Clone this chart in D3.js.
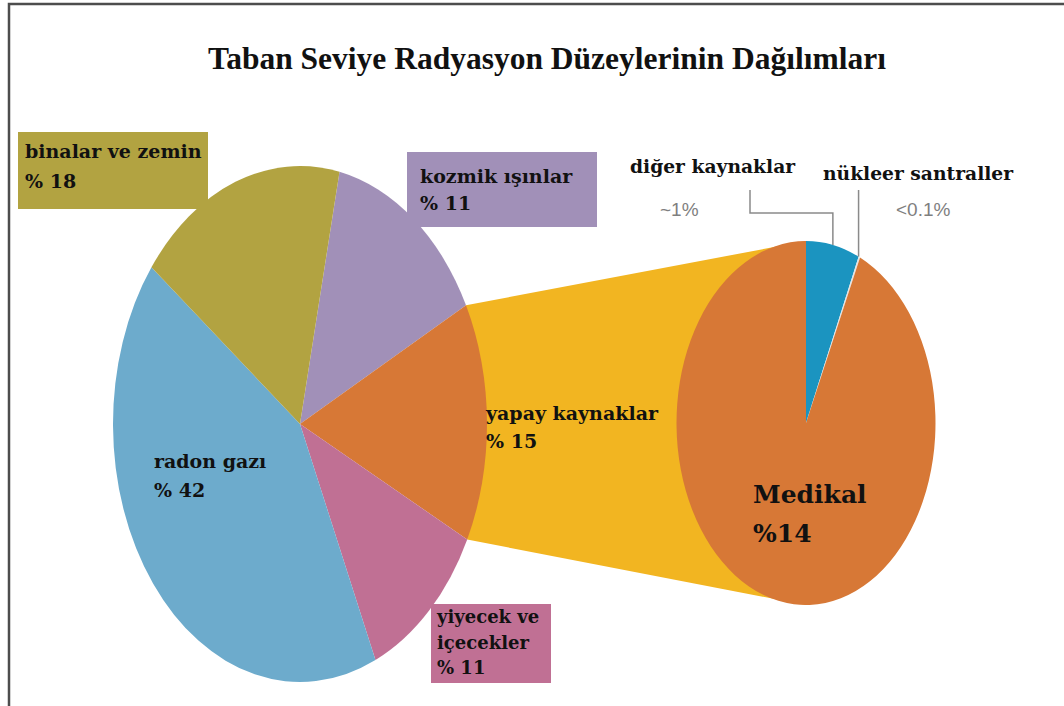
<!DOCTYPE html>
<html>
<head>
<meta charset="utf-8">
<script src="https://cdn.jsdelivr.net/npm/d3@7"></script>
<style>
  body { margin: 0; background: #fff; }
  svg { display: block; }
  .lbl { font-family: "DejaVu Serif", serif; font-weight: bold; fill: #111; }
</style>
</head>
<body>
<div class="PieOfPie"></div>
<script>
// main pie (percent of total dose), clockwise from the top-right slice
const mainCats = ["kozmik ışınlar", "yapay kaynaklar", "yiyecek ve içecekler", "radon gazı", "binalar ve zemin"];
const mainValues = [14, 15, 11, 42, 18];
const mainLabels = ["% 11", "% 15", "% 11", "% 42", "% 18"];

// secondary pie that splits "yapay kaynaklar"
const subCats = ["diğer kaynaklar", "nükleer santraller", "Medikal"];
const subValues = [1, 0.03, 14];
const subLabels = ["~1%", "<0.1%", "%14"];

const titleText = "Taban Seviye Radyasyon Düzeylerinin Dağılımları";

const width = 1064, height = 706;

const mainColor = d3.scaleOrdinal()
  .domain(mainCats)
  .range(["#a190b8", "#d77836", "#c07094", "#6dabcc", "#b2a341"]);
const subColor = d3.scaleOrdinal()
  .domain(subCats)
  .range(["#1b94c0", "#e4e4e4", "#d77836"]);

// ellipse geometry of both pies
const P = { cx: 300, cy: 424, rx: 187, ry: 258 };
const S = { cx: 806, cy: 423, rx: 129.5, ry: 182 };

let svg = d3.select(".PieOfPie")
  .append("svg")
  .attr("width", width)
  .attr("height", height);

// frame
svg.append("rect")
  .attr("x", 9).attr("y", 4)
  .attr("width", 1200).attr("height", 900)
  .attr("fill", "none")
  .attr("stroke", "#4d4d4d")
  .attr("stroke-width", 2.5);

svg.append("text")
  .attr("x", 547).attr("y", 69)
  .attr("text-anchor", "middle")
  .style("font-family", "'Liberation Serif', 'Times New Roman', serif")
  .style("font-weight", "bold")
  .style("font-size", "31.5px")
  .style("fill", "#111")
  .text(titleText);

const start = 12.2 * Math.PI / 180;
const pie = d3.pie().sort(null).value(d => d.v)
  .startAngle(start).endAngle(start + 2 * Math.PI);
const mainArcs = pie(mainCats.map((c, i) => ({ c: c, v: mainValues[i] })));

const subPie = d3.pie().sort(null).value(d => d.v);
const subArcs = subPie(subCats.map((c, i) => ({ c: c, v: subValues[i] })));

// point on an ellipse for a d3 angle (0 = top, clockwise)
function onEllipse(E, a) {
  return [E.cx + E.rx * Math.sin(a), E.cy - E.ry * Math.cos(a)];
}

// connector band from the split slice to the secondary pie
const split = mainArcs[1];
const p1 = onEllipse(P, split.startAngle);
const p2 = onEllipse(P, split.endAngle);
svg.append("path")
  .attr("d", d3.line()([p1, [S.cx, S.cy - S.ry], [S.cx, S.cy + S.ry], p2]) + "Z")
  .attr("fill", "#f2b521");

const arcMain = d3.arc().innerRadius(0).outerRadius(P.ry);
svg.append("g")
  .attr("transform", `translate(${P.cx},${P.cy}) scale(${P.rx / P.ry},1)`)
  .selectAll("path")
  .data(mainArcs)
  .enter()
  .append("path")
  .attr("d", arcMain)
  .attr("fill", d => mainColor(d.data.c));

const arcSub = d3.arc().innerRadius(0).outerRadius(S.ry);
svg.append("g")
  .attr("transform", `translate(${S.cx},${S.cy}) scale(${S.rx / S.ry},1)`)
  .selectAll("path")
  .data(subArcs)
  .enter()
  .append("path")
  .attr("d", arcSub)
  .attr("fill", d => subColor(d.data.c));

// label boxes and texts for the main pie
const mainLayout = {
  "kozmik ışınlar": { box: [407, 152, 190, 75], x: 420, y: 183, gap: 27, lines: ["kozmik ışınlar"] },
  "yapay kaynaklar": { x: 486, y: 420, gap: 28, lines: ["yapay kaynaklar"] },
  "yiyecek ve içecekler": { box: [431, 604, 120, 79], x: 437, y: 623, gap: 25.5, lines: ["yiyecek ve", "içecekler"] },
  "radon gazı": { x: 154, y: 468, gap: 29, lines: ["radon gazı"] },
  "binalar ve zemin": { box: [18, 132, 190, 77], x: 25, y: 158, gap: 30, lines: ["binalar ve zemin"] }
};

mainCats.forEach((c, i) => {
  const L = mainLayout[c];
  if (L.box) {
    svg.append("rect")
      .attr("x", L.box[0]).attr("y", L.box[1])
      .attr("width", L.box[2]).attr("height", L.box[3])
      .attr("fill", mainColor(c));
  }
  const t = svg.append("text")
    .attr("class", "lbl")
    .attr("x", L.x).attr("y", L.y)
    .style("font-size", c === "yiyecek ve içecekler" ? "18px" : "19px");
  L.lines.concat([mainLabels[i]]).forEach((s, j) => {
    t.append("tspan")
      .attr("x", L.x)
      .attr("dy", j === 0 ? 0 : L.gap)
      .text(s);
  });
});

// Medikal label inside the secondary pie
const med = svg.append("text")
  .attr("class", "lbl")
  .attr("x", 753).attr("y", 503)
  .style("font-size", "25px");
med.append("tspan").attr("x", 753).text(subCats[2]);
med.append("tspan").attr("x", 753).attr("dy", 39).text(subLabels[2]);

// small slices: titles, gray values and leader lines
const smallLayout = [
  { x: 630, y: 173, vx: 660, vy: 216, elbow: [750, 190, 213] },
  { x: 823, y: 180, vx: 896, vy: 216, elbow: null }
];

smallLayout.forEach((L, i) => {
  const a = subArcs[i];
  const mid = i === 0 ? (a.startAngle + a.endAngle) / 2 : a.startAngle;
  const end = onEllipse(S, mid);
  svg.append("text")
    .attr("class", "lbl")
    .attr("x", L.x).attr("y", L.y)
    .style("font-size", "18.7px")
    .text(subCats[i]);
  svg.append("text")
    .attr("x", L.vx).attr("y", L.vy)
    .style("font-family", "'Liberation Sans', Arial, sans-serif")
    .style("font-size", "19px")
    .style("fill", "#7f7f7f")
    .text(subLabels[i]);
  const pts = L.elbow
    ? [[L.elbow[0], L.elbow[1]], [L.elbow[0], L.elbow[2]], [end[0], L.elbow[2]], end]
    : [[end[0], 190], end];
  svg.append("path")
    .attr("d", d3.line()(pts))
    .attr("fill", "none")
    .attr("stroke", "#8a8a8a")
    .attr("stroke-width", 1.5);
});
</script>
</body>
</html>
